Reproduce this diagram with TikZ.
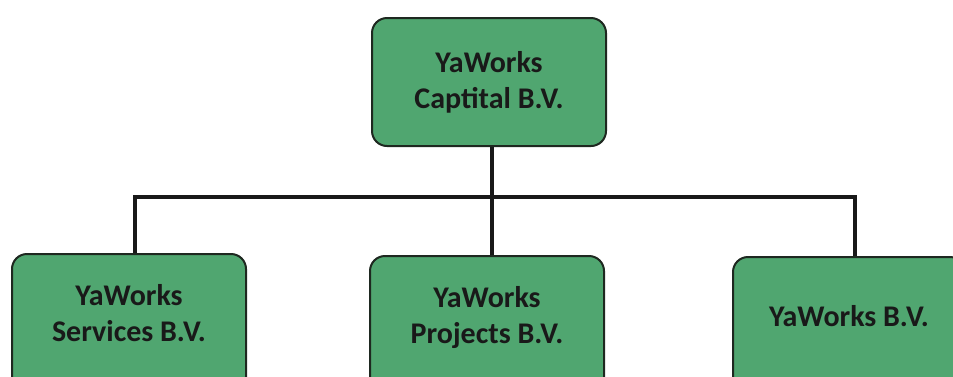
\documentclass[tikz,border=0pt]{standalone}
\usepackage{fontspec}
\setmainfont{Carlito}
\definecolor{boxgreen}{RGB}{80,166,112}
\definecolor{boxedge}{RGB}{30,40,32}
\begin{document}
\begin{tikzpicture}[x=1pt,y=-1pt,
  orgbox/.style={draw=boxedge,line width=2pt,fill=boxgreen,rounded corners=15pt,
    inner sep=0pt,align=center,font=\bfseries\fontsize{30}{36}\selectfont,text=black!90},
  lowbox/.style={orgbox,anchor=north,minimum width=234pt,text depth=50pt},
  link/.style={line width=4.5pt,draw=black!90}]
\useasboundingbox (0,0) rectangle (953,376);
\clip (0,0) rectangle (953,376);
\node[orgbox,minimum width=234pt,minimum height=128pt] (cap) at (489,82) {YaWorks\\Captital B.V.};
\node[lowbox,inner ysep=30pt] (srv) at (129,253) {YaWorks\\Services B.V.};
\node[lowbox,inner ysep=30pt] (prj) at (487,255) {YaWorks\\Projects B.V.};
\node[lowbox,minimum width=232pt,inner ysep=48pt] (bv) at (849,256) {YaWorks B.V.};
\coordinate (bar) at (492,197);
\draw[link] (cap.south -| bar) -- (bar);
\draw[link] (srv.north -| 135,0) |- (bar) -| (bv.north -| 855,0);
\draw[link] (bar) -- (prj.north -| bar);
\end{tikzpicture}
\end{document}
